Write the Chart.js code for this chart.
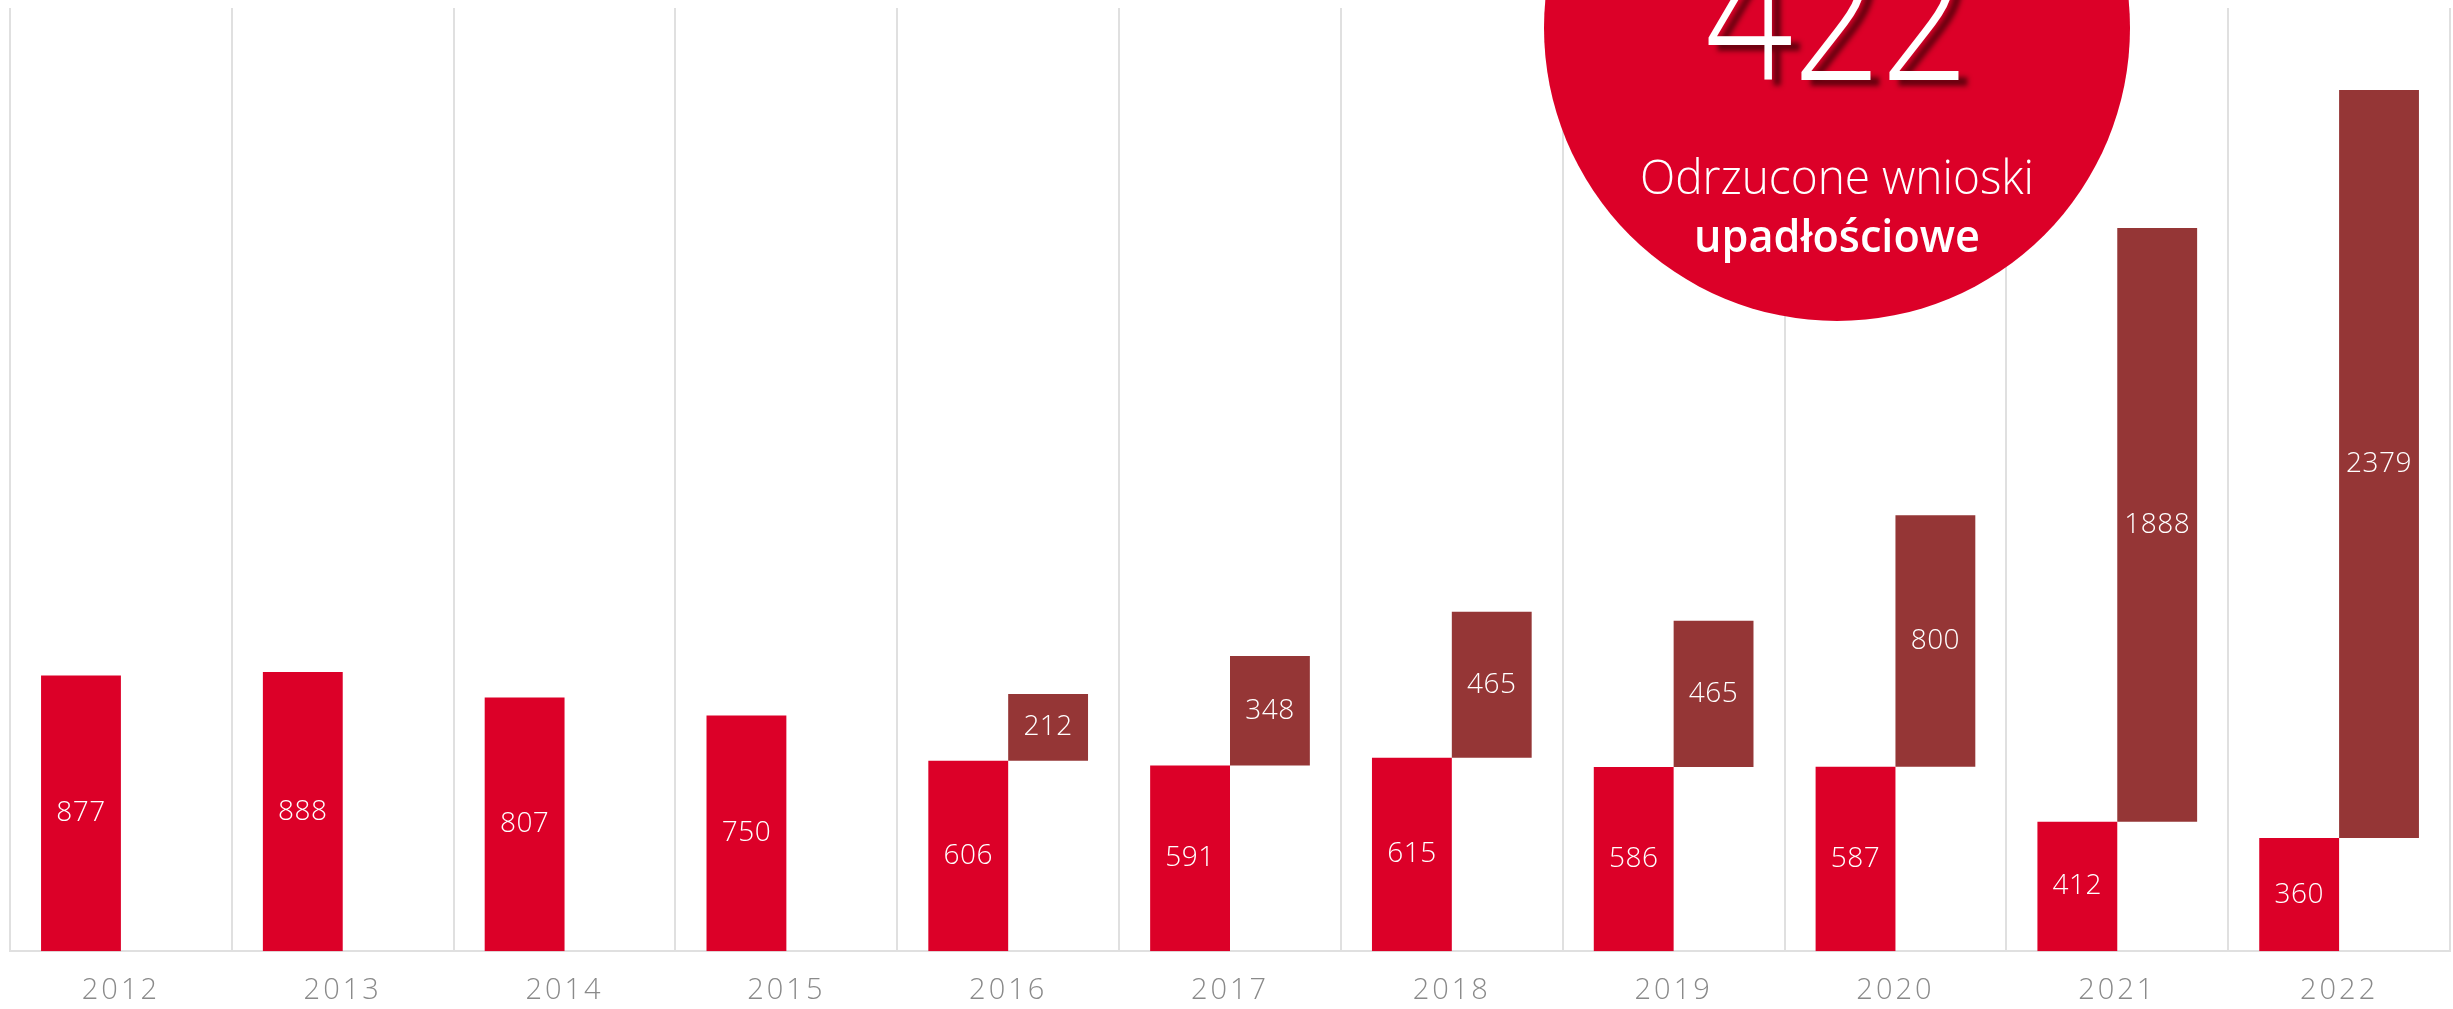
<!DOCTYPE html>
<html>
<head>
<meta charset="utf-8">
<script src="https://cdn.jsdelivr.net/npm/chart.js@4"></script>
<style>
  html, body { margin: 0; padding: 0; background: #ffffff; overflow: hidden; }
  #wrap { width: 2453px; height: 1009px; }
</style>
</head>
<body>
<div id="wrap"><canvas id="chart" width="2453" height="1009"></canvas></div>
<script>
// lata
const years = ['2012', '2013', '2014', '2015', '2016', '2017', '2018', '2019', '2020', '2021', '2022'];
// czerwone slupki (dolne)
const redValues = [877, 888, 807, 750, 606, 591, 615, 586, 587, 412, 360];
// ciemne slupki (nad czerwonymi)
const darkValues = [null, null, null, null, 212, 348, 465, 465, 800, 1888, 2379];

// wielkie kolo z opisem
const bubbleNumber = '422';
const bubbleLine1 = 'Odrzucone wnioski';
const bubbleLine2 = 'upadłościowe';

const colorRed = '#DC0028';
const colorDark = '#953636';
const colorGrid = '#e0e0e0';
const fontFamily = '"Open Sans", "Lato", sans-serif';

// ciemny slupek zaczyna sie na szczycie czerwonego
const darkFloating = darkValues.map((v, i) => v == null ? null : [redValues[i], redValues[i] + v]);

const fitText = (ctx, text, cx, y, width, font) => {
    ctx.font = font;
    const w = ctx.measureText(text).width;
    ctx.save();
    ctx.translate(cx, y);
    ctx.scale(width / w, 1);
    ctx.fillText(text, 0, 0);
    ctx.restore();
};

// rozstrzelone etykiety lat
const spacing = {
    id: 'spacing',
    beforeDraw: (chart) => { chart.ctx.letterSpacing = '3px'; },
    beforeDatasetsDraw: (chart) => { chart.ctx.letterSpacing = '0px'; }
};

const barLabels = {
    id: 'barLabels',
    afterDatasetsDraw: (chart) => {
        const ctx = chart.ctx;
        ctx.save();
        ctx.letterSpacing = '0.5px';
        ctx.fillStyle = '#ffffff';
        ctx.font = '300 28px ' + fontFamily;
        ctx.textAlign = 'center';
        ctx.textBaseline = 'middle';
        chart.data.datasets.forEach((ds, di) => {
            const meta = chart.getDatasetMeta(di);
            const src = di === 0 ? redValues : darkValues;
            meta.data.forEach((el, i) => {
                if (src[i] == null) return;
                ctx.fillText(String(src[i]), el.x, (el.y + el.base) / 2);
            });
        });
        ctx.restore();
    }
};

const bubble = {
    id: 'bubble',
    afterDraw: (chart) => {
        const ctx = chart.ctx;
        const cx = 1837, cy = 28, r = 293;
        ctx.save();
        ctx.letterSpacing = '0px';
        ctx.beginPath();
        ctx.arc(cx, cy, r, 0, Math.PI * 2);
        ctx.fillStyle = colorRed;
        ctx.fill();

        ctx.fillStyle = '#ffffff';
        ctx.textAlign = 'center';
        ctx.textBaseline = 'alphabetic';

        ctx.save();
        ctx.shadowColor = 'rgba(90, 0, 12, 0.9)';
        ctx.shadowOffsetX = 9;
        ctx.shadowOffsetY = 6;
        ctx.shadowBlur = 5;
        fitText(ctx, bubbleNumber, cx, 80, 264, '300 190px ' + fontFamily);
        ctx.restore();

        fitText(ctx, bubbleLine1, cx, 194, 394, '300 48px ' + fontFamily);
        fitText(ctx, bubbleLine2, cx, 252, 286, '600 46px ' + fontFamily);
        ctx.restore();
    }
};

new Chart(document.getElementById('chart'), {
    type: 'bar',
    data: {
        labels: years,
        datasets: [{
            label: 'czerwone',
            data: redValues,
            backgroundColor: colorRed,
            borderWidth: 0
        }, {
            label: 'ciemne',
            data: darkFloating,
            backgroundColor: colorDark,
            borderWidth: 0
        }]
    },
    options: {
        responsive: false,
        devicePixelRatio: 1,
        animation: false,
        datasets: {
            bar: { categoryPercentage: 0.72, barPercentage: 1.0, borderSkipped: false }
        },
        layout: { padding: { left: 10, right: 3, top: 8, bottom: -21 } },
        plugins: {
            legend: { display: false },
            tooltip: { enabled: false }
        },
        scales: {
            x: {
                grid: { color: colorGrid, lineWidth: 2, drawTicks: false, offset: true },
                border: { color: colorGrid, width: 2 },
                ticks: {
                    color: '#8a8a8a',
                    font: { family: fontFamily, size: 29, weight: '300' },
                    padding: 22
                }
            },
            y: {
                display: false,
                min: 0,
                max: 3000
            }
        }
    },
    plugins: [spacing, barLabels, bubble]
});
</script>
</body>
</html>
